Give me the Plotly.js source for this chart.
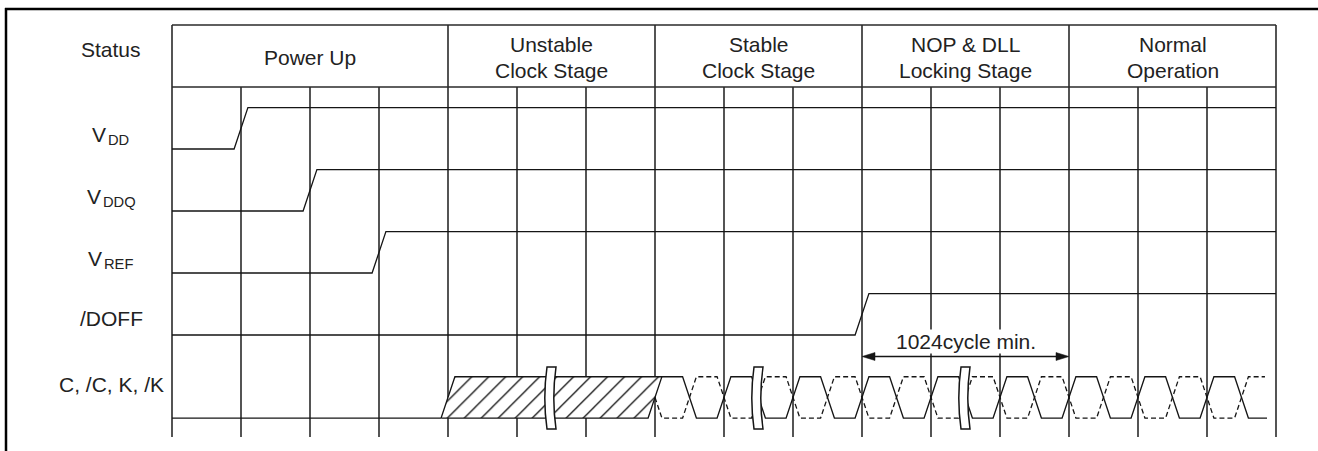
<!DOCTYPE html>
<html><head><meta charset="utf-8">
<script src="https://cdn.plot.ly/plotly-3.0.1.min.js"></script>
<style>html,body{margin:0;padding:0;background:#fff;} #chart{width:1318px;height:451px;}</style>
</head><body><div id="chart"></div>
<script>
// ---------------- data (time in clock cycles; one grid cell = one cycle) ----------------
const statusLabel = 'Status';
const stageNames = [['Power Up'], ['Unstable', 'Clock Stage'], ['Stable', 'Clock Stage'], ['NOP &amp; DLL', 'Locking Stage'], ['Normal', 'Operation']];
const stageBounds = [0, 4, 7, 10, 13, 16];
const signalNames = ['V', 'V', 'V', '/DOFF'];
const signalSubs = ['DD', 'DDQ', 'REF', ''];
const signalRise = [1, 2, 3, 10];
const clockName = 'C, /C, K, /K';
const clockUnstable = [4, 7];
const clockRise = [7, 8, 9, 10, 11, 12, 13, 14, 15];
const clockFall = [7.5, 8.5, 9.5, 10.5, 11.5, 12.5, 13.5, 14.5, 15.5];
const clockEnd = 15.87;
const breakAt = [5.5, 8.5, 11.5];
const lockSpan = [10, 13];
const lockLabel = '1024cycle min.';

// ---------------- layout helpers ----------------
const W = 1318, H = 451;
const PX_CELL = 69, X0PX = 172;
const ROW_PX = 62, Y0PX = 87;
const xRange = [-X0PX / PX_CELL, (W - X0PX) / PX_CELL];
const yRange = [(H - Y0PX) / ROW_PX, -Y0PX / ROW_PX];
const E = 0.1;            // half of a transition, in cycles
const AMP = 0.667;        // logic swing, in rows
const GRID_BOTTOM = 5.645;
const CLK_LOW = 5.34, CLK_HIGH = CLK_LOW - AMP, CLK_MID = (CLK_LOW + CLK_HIGH) / 2;
const tEnd = stageBounds[stageBounds.length - 1];
const INK = '#151515', GRID = '#2a2a2a';
const FS = 21, SUB_FS = 14.7;
const FONT = {family: 'Liberation Sans, Arial, Helvetica, sans-serif', size: FS, color: '#222'};
const SUB_FONT = Object.assign({}, FONT, {size: SUB_FS});

const traces = [];

// grid
const gx = [], gy = [];
for (let i = stageBounds[0]; i <= tEnd; i++) { gx.push(i, i, null); gy.push(0, GRID_BOTTOM, null); }
stageBounds.forEach(b => { gx.push(b, b, null); gy.push(-1, 0, null); });
gx.push(stageBounds[0], tEnd, null, stageBounds[0], tEnd, null);
gy.push(-1, -1, null, 0, 0, null);
traces.push({x: gx, y: gy, mode: 'lines', line: {color: GRID, width: 1.6}, hoverinfo: 'skip'});

// level signals
signalRise.forEach((t, i) => {
  const lo = i + 1, hi = lo - AMP;
  traces.push({x: [stageBounds[0], t - E, t + E, tEnd], y: [lo, lo, hi, hi], mode: 'lines',
    line: {color: INK, width: 1.3}, hoverinfo: 'skip'});
});

// clock: idle low before unstable stage
traces.push({x: [stageBounds[0], clockUnstable[0] - E], y: [CLK_LOW, CLK_LOW], mode: 'lines',
  line: {color: INK, width: 1.3}, hoverinfo: 'skip'});
// unstable clock (hatched)
traces.push({x: [clockUnstable[0] - E, clockUnstable[0] + E, clockUnstable[1] + E, clockUnstable[1] - E, clockUnstable[0] - E],
  y: [CLK_LOW, CLK_HIGH, CLK_HIGH, CLK_LOW, CLK_LOW], mode: 'lines', fill: 'toself',
  fillpattern: {shape: '/', size: 12, solidity: 0.11, fgcolor: INK, bgcolor: '#fff'},
  fillcolor: '#fff', line: {color: INK, width: 1.3}, hoverinfo: 'skip'});
// stable clock, true phase (solid) and complement (dashed)
const sx = [clockRise[0] + E], sy = [CLK_HIGH];
const dx = [clockRise[0], clockRise[0] + E], dy = [CLK_MID, CLK_LOW];
clockFall.forEach((f, k) => {
  sx.push(f - E, f + E); sy.push(CLK_HIGH, CLK_LOW);
  dx.push(f - E, f + E); dy.push(CLK_LOW, CLK_HIGH);
  const r = clockRise[k + 1];
  if (r !== undefined) {
    sx.push(r - E, r + E); sy.push(CLK_LOW, CLK_HIGH);
    dx.push(r - E, r + E); dy.push(CLK_HIGH, CLK_LOW);
  }
});
sx.push(clockEnd); sy.push(CLK_LOW);
dx.push(clockEnd - 0.03); dy.push(CLK_HIGH);
traces.push({x: sx, y: sy, mode: 'lines', line: {color: INK, width: 1.3}, hoverinfo: 'skip'});
traces.push({x: dx, y: dy, mode: 'lines', line: {color: INK, width: 1.3, dash: '5px,3px'}, hoverinfo: 'skip'});

// lock-time arrow shaft
const ARW = (356.5 - Y0PX) / ROW_PX;
const HEAD_L = 13 / PX_CELL, HEAD_H = 4 / ROW_PX;
traces.push({x: [lockSpan[0] + HEAD_L * 0.8, lockSpan[1] - HEAD_L * 0.8], y: [ARW, ARW], mode: 'lines',
  line: {color: INK, width: 1.4}, hoverinfo: 'skip'});

// shapes: breaks, arrow heads, outer frame
const shapes = [];
const BW = 9 / PX_CELL, BOW = 2.2 / PX_CELL, BY0 = (367 - Y0PX) / ROW_PX, BY1 = (429 - Y0PX) / ROW_PX, BYM = (BY0 + BY1) / 2;
breakAt.forEach(b => {
  const l = b - BW / 2, r = b + BW / 2;
  shapes.push({type: 'path', xref: 'x', yref: 'y', layer: 'above',
    path: `M${l},${BY0} Q${l - 2 * BOW},${BYM} ${l},${BY1} L${r},${BY1} Q${r - 2 * BOW},${BYM} ${r},${BY0} Z`,
    fillcolor: '#fff', line: {color: INK, width: 1.5}});
});
shapes.push({type: 'path', xref: 'x', yref: 'y', layer: 'above',
  path: `M${lockSpan[0]},${ARW} L${lockSpan[0] + HEAD_L},${ARW - HEAD_H} L${lockSpan[0] + HEAD_L},${ARW + HEAD_H} Z`,
  fillcolor: INK, line: {color: INK, width: 0.5}});
shapes.push({type: 'path', xref: 'x', yref: 'y', layer: 'above',
  path: `M${lockSpan[1]},${ARW} L${lockSpan[1] - HEAD_L},${ARW - HEAD_H} L${lockSpan[1] - HEAD_L},${ARW + HEAD_H} Z`,
  fillcolor: INK, line: {color: INK, width: 0.5}});
shapes.push({type: 'line', xref: 'paper', yref: 'paper', x0: 6 / W, x1: 6 / W, y0: 0, y1: 1 - 8 / H, line: {color: '#000', width: 2.5}});
shapes.push({type: 'line', xref: 'paper', yref: 'paper', x0: 5 / W, x1: 1, y0: 1 - 9 / H, y1: 1 - 9 / H, line: {color: '#000', width: 2.5}});

// annotations
const LABEL_PX = 111;
const toX = px => (px - X0PX) / PX_CELL;
const LABEL_X = toX(LABEL_PX);
const ann = [];
ann.push({x: LABEL_X, y: -0.6, text: statusLabel, showarrow: false, font: FONT, xanchor: 'center', yanchor: 'middle'});
const LINE_Y = {1: [-0.48], 2: [-0.69, -0.27]};
stageNames.forEach((lines, i) => {
  lines.forEach((s, j) => {
    ann.push({x: (stageBounds[i] + stageBounds[i + 1]) / 2, y: LINE_Y[lines.length][j], text: s, showarrow: false,
      font: FONT, xanchor: 'center', yanchor: 'middle'});
  });
});
// approximate Arial advance widths (em) for centring label + subscript
const ADV = {V: 0.667, D: 0.722, Q: 0.778, R: 0.722, E: 0.667, F: 0.611};
const emWidth = s => s.split('').reduce((a, c) => a + (ADV[c] || 0.6), 0);
signalNames.forEach((s, i) => {
  const sub = signalSubs[i];
  if (!sub) {
    ann.push({x: LABEL_X, y: i + 0.74, text: s, showarrow: false, font: FONT, xanchor: 'center', yanchor: 'middle'});
    return;
  }
  const wMain = emWidth(s) * FS, wSub = emWidth(sub) * SUB_FS;
  const split = LABEL_PX - (wMain + wSub) / 2 + wMain;
  ann.push({x: toX(split), y: i + 0.765, text: s, showarrow: false, font: FONT, xanchor: 'right', yanchor: 'middle', borderpad: 0});
  ann.push({x: toX(split), y: i + 0.85, text: sub, showarrow: false, font: SUB_FONT, xanchor: 'left', yanchor: 'middle', borderpad: 0});
});
ann.push({x: LABEL_X, y: 4.8, text: clockName, showarrow: false, font: FONT, xanchor: 'center', yanchor: 'middle'});
ann.push({x: (lockSpan[0] + lockSpan[1]) / 2, y: (341 - Y0PX) / ROW_PX, text: lockLabel, showarrow: false, font: FONT,
  xanchor: 'center', yanchor: 'middle', bgcolor: '#fff', borderpad: 0});

const layout = {
  width: W, height: H, autosize: false,
  margin: {l: 0, r: 0, t: 0, b: 0, pad: 0},
  paper_bgcolor: '#fff', plot_bgcolor: '#fff', showlegend: false, hovermode: false,
  xaxis: {range: xRange, visible: false, fixedrange: true},
  yaxis: {range: yRange, visible: false, fixedrange: true},
  shapes: shapes, annotations: ann
};
Plotly.newPlot('chart', traces, layout, {staticPlot: true, displayModeBar: false});
</script></body></html>
